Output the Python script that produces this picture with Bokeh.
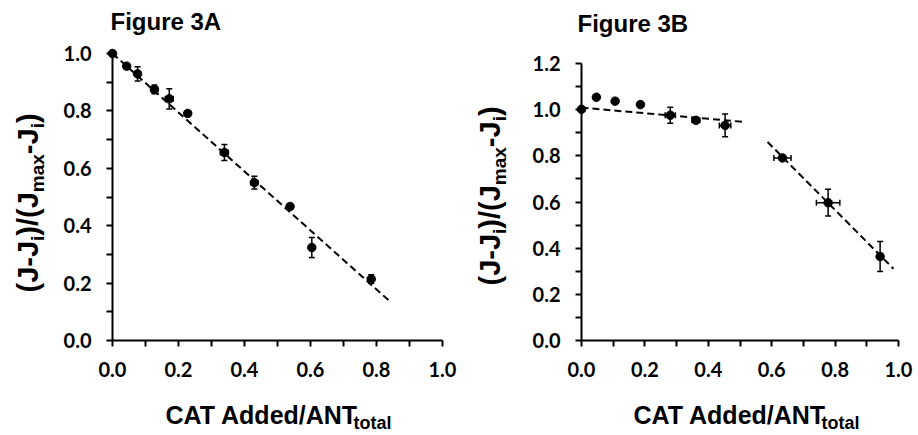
from bokeh.plotting import figure
from bokeh.models import Range1d, FixedTicker, Label, Whisker, ColumnDataSource, NumeralTickFormatter
from bokeh.layouts import row
from bokeh.embed import file_html
from bokeh.resources import INLINE

# ---------------- data: Figure 3A ----------------
a_x = [0.0, 0.043, 0.076, 0.127, 0.172, 0.228, 0.339, 0.430, 0.538, 0.604, 0.784]
a_y = [1.000, 0.956, 0.929, 0.875, 0.842, 0.791, 0.655, 0.550, 0.467, 0.324, 0.214]
a_yerr = [0.0, 0.008, 0.025, 0.015, 0.035, 0.008, 0.028, 0.022, 0.008, 0.035, 0.015]
a_xerr = [0.0, 0.0, 0.008, 0.010, 0.012, 0.008, 0.012, 0.010, 0.008, 0.0, 0.006]
a_fit_x = [0.0, 0.836]
a_fit_y = [1.0, 0.141]

# ---------------- data: Figure 3B ----------------
b_x = [0.0, 0.047, 0.106, 0.186, 0.280, 0.361, 0.453, 0.634, 0.778, 0.942]
b_y = [1.002, 1.054, 1.037, 1.022, 0.976, 0.954, 0.932, 0.791, 0.597, 0.364]
b_yerr = [0.0, 0.0, 0.0, 0.0, 0.035, 0.010, 0.049, 0.010, 0.058, 0.065]
b_xerr = [0.0, 0.0, 0.0, 0.0, 0.016, 0.012, 0.018, 0.027, 0.037, 0.008]
b_fit1_x = [0.0, 0.513]
b_fit1_y = [1.009, 0.947]
b_fit2_x = [0.587, 0.984]
b_fit2_y = [0.860, 0.311]

# ---------------- ticks ----------------
x_major = [0.0, 0.2, 0.4, 0.6, 0.8, 1.0]
x_minor = [0.1, 0.3, 0.5, 0.7, 0.9]
a_y_major = [0.0, 0.2, 0.4, 0.6, 0.8, 1.0]
a_y_minor = [0.1, 0.3, 0.5, 0.7, 0.9]
b_y_major = [0.0, 0.2, 0.4, 0.6, 0.8, 1.0, 1.2]
b_y_minor = [0.1, 0.3, 0.5, 0.7, 0.9, 1.1]

TITLE_FONT = "Liberation Sans"
TICK_FONT = "Lato"
H = 433
SHIFT = 0.35  # baseline correction (fraction of font size)


def make_fig(width, x0_px, y0_px, xs, ys, y_axis_end, y_major, y_minor):
    # the frame fills the whole figure; axes sit at data 0 via fixed_location
    p = figure(title=None,
               x_range=Range1d(-x0_px / xs, (width - x0_px) / xs),
               y_range=Range1d(-(H - y0_px) / ys, y0_px / ys),
               width=width, height=H, min_border=0,
               output_backend="svg", toolbar_location=None, tools="")
    p.outline_line_color = None
    p.grid.visible = False
    p.background_fill_color = "white"
    p.border_fill_color = "white"
    p.xaxis.ticker = FixedTicker(ticks=x_major, minor_ticks=x_minor)
    p.xaxis.bounds = (0, 1.0)
    p.xaxis.fixed_location = 0
    p.yaxis.ticker = FixedTicker(ticks=y_major, minor_ticks=y_minor)
    p.yaxis.bounds = (0, y_axis_end)
    p.yaxis.fixed_location = 0
    for ax in p.axis:
        ax.formatter = NumeralTickFormatter(format="0.0")
        ax.axis_line_width = 2
        ax.axis_line_color = "black"
        ax.major_tick_line_width = 2
        ax.minor_tick_line_width = 2
        ax.major_tick_line_color = "black"
        ax.minor_tick_line_color = "black"
        ax.major_tick_in = 0
        ax.major_tick_out = 6
        ax.minor_tick_in = 0
        ax.minor_tick_out = 6
        ax.major_label_text_font = TICK_FONT
        ax.major_label_text_font_style = "bold"
        ax.major_label_text_font_size = "20px"
        ax.major_label_text_color = "black"
    p.xaxis.major_label_standoff = 15
    p.yaxis.major_label_standoff = 15
    return p


def add_label(p, text, dx, dy, size, angle=0):
    if angle:
        dx -= SHIFT * size
    else:
        dy += SHIFT * size
    p.add_layout(Label(x=0, y=0, x_offset=dx, y_offset=dy, text=text,
                       text_font=TITLE_FONT, text_font_style="bold",
                       text_font_size=f"{size}px", text_color="black",
                       text_align="left", text_baseline="alphabetic",
                       angle=angle, angle_units="deg"))


def add_titles(p, title, tdx, tdy, xdx, xdy, ydx, ydy):
    add_label(p, title, tdx, tdy, 24)
    # x axis title with subscript
    add_label(p, "CAT Added/ANT", xdx, xdy, 25)
    add_label(p, "total", xdx + 188, xdy - 6, 18)
    # y axis title with subscripts (rotated)
    main, sub = 29, 19
    segs = [("(J-J", False), ("i", True), (")/(J", False), ("max", True),
            ("-J", False), ("i", True), (")", False)]
    widths = {"(J-J": 1.778, "i": 0.278, ")/(J": 1.5, "max": 2.001, "-J": 0.889, ")": 0.333}
    pos = ydy
    for t, is_sub in segs:
        size = sub if is_sub else main
        add_label(p, t, ydx + (6 if is_sub else 0), pos, size, angle=90)
        pos += widths[t] * size


def add_points(p, xs, ys, xerr, yerr):
    p.scatter(xs, ys, size=8.5, marker="circle", fill_color="black", line_color="black")
    vx = [x for x, e in zip(xs, yerr) if e > 0]
    vl = [y - e for y, e in zip(ys, yerr) if e > 0]
    vu = [y + e for y, e in zip(ys, yerr) if e > 0]
    w = Whisker(source=ColumnDataSource(dict(base=vx, lower=vl, upper=vu)),
                base="base", lower="lower", upper="upper", dimension="height",
                line_color="black", line_width=1.5)
    w.upper_head.size = 6
    w.lower_head.size = 6
    w.upper_head.line_width = 1.5
    w.lower_head.line_width = 1.5
    p.add_layout(w)
    hy = [y for y, e in zip(ys, xerr) if e > 0]
    hl = [x - e for x, e in zip(xs, xerr) if e > 0]
    hu = [x + e for x, e in zip(xs, xerr) if e > 0]
    h = Whisker(source=ColumnDataSource(dict(base=hy, lower=hl, upper=hu)),
                base="base", lower="lower", upper="upper", dimension="width",
                line_color="black", line_width=1.5)
    h.upper_head.size = 6
    h.lower_head.size = 6
    h.upper_head.line_width = 1.5
    h.lower_head.line_width = 1.5
    p.add_layout(h)


# Figure 3A : origin at (112, 340), 330 px per unit in x, 287 px per unit in y
pa = make_fig(458, 112, 340, 330.0, 287.0, 1.0, a_y_major, a_y_minor)
pa.line(a_fit_x, a_fit_y, line_color="black", line_width=2, line_dash="7 4")
add_points(pa, a_x, a_y, a_xerr, a_yerr)
add_titles(pa, "Figure 3A", -2, 311, 53, -83, -74, 48)

# Figure 3B : origin at (581, 340) on the page -> 123 px inside this figure
pb = make_fig(456, 123, 340, 317.0, 230.8, 1.2, b_y_major, b_y_minor)
pb.line(b_fit1_x, b_fit1_y, line_color="black", line_width=2, line_dash="7 4")
pb.line(b_fit2_x, b_fit2_y, line_color="black", line_width=2, line_dash="7 4")
add_points(pb, b_x, b_y, b_xerr, b_yerr)
add_titles(pb, "Figure 3B", -4, 309, 52, -83, -81, 55)

layout = row(pa, pb)
open("out.html", "w").write(file_html(layout, INLINE))
